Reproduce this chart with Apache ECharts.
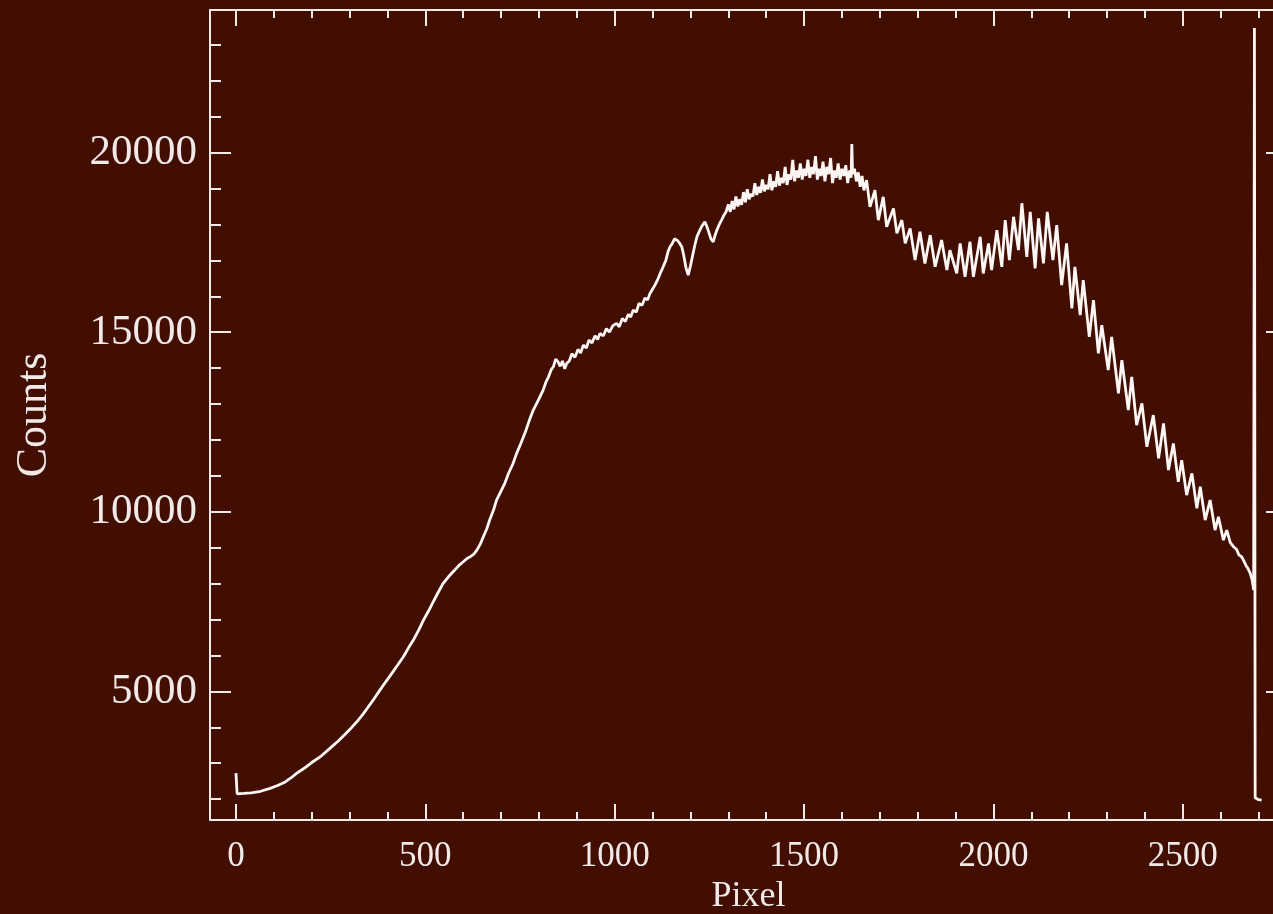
<!DOCTYPE html>
<html>
<head>
<meta charset="utf-8">
<script src="https://cdn.jsdelivr.net/npm/echarts@6/dist/echarts.min.js"></script>
<style>
  html, body { margin: 0; padding: 0; background: #420E02; }
  #chart { width: 1273px; height: 914px; }
</style>
</head>
<body>
<div id="chart"></div>
<script>
// Detector pixel positions and the counts recorded at each one
const pixel = [
  0, 3, 20, 40, 65, 90, 110, 130, 145, 160, 180, 200, 225, 248, 270, 290, 305, 319, 335, 350,
  365, 380, 395, 410, 426, 442, 456, 470, 483, 495, 508, 520, 534, 547, 561, 575, 588, 600, 610, 620,
  628, 636, 645, 653, 662, 670, 680, 688, 699, 710, 720, 731, 741, 752, 765, 775, 785, 798, 811, 818,
  825, 832, 838, 844, 850, 856, 862, 868, 873, 880, 887, 895, 903, 910, 917, 925, 932, 940, 948, 955,
  961, 970, 978, 986, 995, 1005, 1012, 1020, 1028, 1036, 1042, 1049, 1057, 1064, 1072, 1080, 1087, 1093, 1100, 1108,
  1114, 1120, 1127, 1135, 1141, 1146, 1151, 1158, 1164, 1170, 1177, 1182, 1188, 1194, 1200, 1205, 1211, 1217, 1223, 1230,
  1238, 1243, 1248, 1254, 1260, 1265, 1270, 1276, 1282, 1288, 1294,
  1300, 1305, 1310, 1315, 1320, 1325, 1330, 1335, 1340, 1345, 1350, 1355, 1360, 1365, 1370, 1375, 1380, 1385, 1390, 1395,
  1400, 1405, 1410, 1415, 1420, 1425, 1430, 1435, 1440, 1445, 1450, 1455, 1460, 1465, 1470, 1475, 1480, 1485, 1490, 1495,
  1500, 1505, 1510, 1515, 1520, 1525, 1530, 1535, 1540, 1545, 1550, 1555, 1560, 1565, 1570, 1575, 1580, 1585, 1590, 1595,
  1600, 1605, 1610, 1615, 1620, 1624, 1626, 1628, 1633, 1638, 1643, 1648, 1653, 1658,
  1665, 1674, 1687, 1696, 1709, 1718, 1736, 1745, 1758, 1767, 1780, 1793, 1806, 1819, 1833, 1846, 1863, 1877, 1885, 1903,
  1912, 1925, 1938, 1947, 1965, 1973, 1987, 1995, 2009, 2022, 2031, 2042, 2053, 2066, 2075, 2088, 2097, 2110, 2119, 2132,
  2142, 2157, 2167, 2180, 2193, 2207, 2215, 2229, 2237, 2253, 2264, 2277, 2286, 2303, 2312, 2330, 2339, 2356, 2365, 2378,
  2392, 2405, 2422, 2436, 2449, 2462, 2475, 2488, 2497, 2510, 2524, 2537, 2546, 2559, 2572, 2585, 2594, 2607, 2616, 2625,
  2634, 2642, 2648, 2655, 2660, 2667, 2672, 2678, 2683, 2687, 2689, 2691, 2700, 2708
];
const counts = [
  2725, 2150, 2160, 2175, 2220, 2300, 2380, 2480, 2590, 2717, 2860, 3020, 3200, 3413, 3620, 3830, 3990, 4154, 4360, 4580,
  4800, 5036, 5260, 5480, 5720, 5963, 6220, 6460, 6720, 6985, 7230, 7480, 7760, 8007, 8190, 8350, 8500, 8608, 8700, 8760,
  8820, 8934, 9100, 9304, 9520, 9780, 10050, 10326, 10560, 10800, 11080, 11330, 11626, 11900, 12250, 12560, 12831, 13100, 13388, 13600,
  13750, 13950, 14037, 14250, 14180, 14050, 14200, 13980, 14131, 14200, 14400, 14300, 14520, 14420, 14641, 14560, 14780, 14700, 14900, 14800,
  14967, 14900, 15100, 15000, 15180, 15245, 15150, 15380, 15300, 15500, 15420, 15616, 15560, 15800, 15750, 15950, 15900, 16080, 16200, 16350,
  16480, 16637, 16800, 17000, 17250, 17378, 17450, 17600, 17564, 17500, 17378, 17150, 16800, 16590, 16850, 17100, 17400, 17656, 17800, 17950,
  18074, 17950, 17800, 17600, 17517, 17700, 17850, 18000, 18120, 18250, 18350,
  18560, 18350, 18650, 18420, 18780, 18500, 18700, 18550, 18900, 18620, 18980, 18700, 18850, 18780, 19150, 18820, 19050, 18880, 19250, 18920,
  19100, 18980, 19400, 18950, 19200, 19050, 19480, 19080, 19300, 19150, 19600, 19100, 19400, 19250, 19800, 19200, 19500, 19300, 19700, 19250,
  19550, 19350, 19800, 19300, 19600, 19400, 19900, 19250, 19550, 19350, 19750, 19200, 19600, 19400, 19850, 19150, 19500, 19300, 19700, 19250,
  19550, 19350, 19650, 19150, 19500, 19300, 20237, 19400, 19550, 19200, 19450, 19050, 19350, 18950,
  19235, 18491, 18956, 18121, 18770, 17934, 18447, 17751, 18121, 17473, 17890, 17007, 17795, 16915, 17703, 16821, 17564, 16729, 17286, 16637,
  17473, 16542, 17517, 16542, 17656, 16637, 17473, 16729, 17842, 16821, 18121, 17007, 18213, 17286, 18590, 17099, 18352, 16776, 18168, 16915,
  18352, 17007, 17982, 16311, 17472, 15663, 16820, 15476, 16450, 14872, 15894, 14410, 15198, 13945, 14872, 13296, 14223, 12831, 13758, 12414,
  13018, 11810, 12692, 11487, 12461, 11161, 11904, 10835, 11439, 10465, 11069, 10095, 10696, 9769, 10326, 9491, 9861, 9212, 9491, 9150,
  9026, 8950, 8800, 8750, 8655, 8500, 8420, 8285, 8100, 7820, 23470, 2040, 1985, 1975
];

// Axis ranges and tick positions
const xRange = [-68.6, 2775];
const yRange = [1420, 23970];
const xMajorTicks = [0, 500, 1000, 1500, 2000, 2500];
const xMinorTicks = [100, 200, 300, 400, 600, 700, 800, 900, 1100, 1200, 1300, 1400,
  1600, 1700, 1800, 1900, 2100, 2200, 2300, 2400, 2600, 2700];
const yMajorTicks = [5000, 10000, 15000, 20000];
const yMinorTicks = [2000, 3000, 4000, 6000, 7000, 8000, 9000, 11000, 12000, 13000, 14000,
  16000, 17000, 18000, 19000, 21000, 22000, 23000];

const ink = '#F1E9E7';
const font = 'Liberation Serif';
const axisStroke = { color: ink, width: 2 };
const plain = (v) => String(v);

function xAxisDef(position, ticks, len, withLine, labels) {
  return {
    type: 'value', position: position, min: xRange[0], max: xRange[1],
    axisLine: { show: withLine, onZero: false, lineStyle: axisStroke },
    axisTick: { show: true, inside: true, length: len, customValues: ticks, lineStyle: axisStroke },
    axisLabel: labels ? { show: true, customValues: ticks, formatter: plain, margin: 19, color: ink,
      fontFamily: font, fontSize: 35 } : { show: false },
    splitLine: { show: false }
  };
}
function yAxisDef(position, ticks, len, withLine, labels) {
  return {
    type: 'value', position: position, min: yRange[0], max: yRange[1],
    axisLine: { show: withLine, onZero: false, lineStyle: axisStroke },
    axisTick: { show: true, inside: true, length: len, customValues: ticks, lineStyle: axisStroke },
    axisLabel: labels ? { show: true, customValues: ticks, formatter: plain, margin: 13, color: ink,
      fontFamily: font, fontSize: 43 } : { show: false },
    splitLine: { show: false }
  };
}

const xBottom = xAxisDef('bottom', xMajorTicks, 16, true, true);
xBottom.name = 'Pixel';
xBottom.nameLocation = 'middle';
xBottom.nameGap = 57;
xBottom.nameTextStyle = { color: ink, fontFamily: font, fontSize: 36 };

const yLeft = yAxisDef('left', yMajorTicks, 21, true, true);
yLeft.name = 'Counts';
yLeft.nameLocation = 'middle';
yLeft.nameGap = 154;
yLeft.nameTextStyle = { color: ink, fontFamily: font, fontSize: 44 };

const chart = echarts.init(document.getElementById('chart'), null, { renderer: 'canvas' });
chart.setOption({
  backgroundColor: '#420E02',
  animation: false,
  grid: { left: 210, top: 10, width: 1077, height: 810, outerBoundsMode: 'none', containLabel: false },
  xAxis: [
    xBottom,
    xAxisDef('bottom', xMinorTicks, 8, false, false),
    xAxisDef('top', xMajorTicks, 16, true, false),
    xAxisDef('top', xMinorTicks, 8, false, false)
  ],
  yAxis: [
    yLeft,
    yAxisDef('left', yMinorTicks, 11, false, false),
    yAxisDef('right', yMajorTicks, 21, true, false),
    yAxisDef('right', yMinorTicks, 11, false, false)
  ],
  series: [{
    type: 'line',
    xAxisIndex: 0,
    yAxisIndex: 0,
    data: pixel.map((p, i) => [p, counts[i]]),
    showSymbol: false,
    symbol: 'none',
    clip: true,
    lineStyle: { color: '#FBF6F4', width: 2.8 }
  }]
});
</script>
</body>
</html>
